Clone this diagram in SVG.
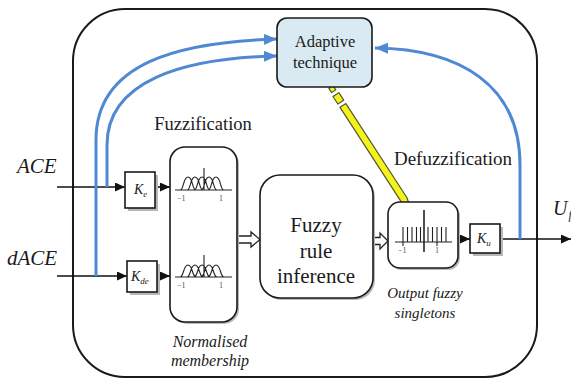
<svg xmlns="http://www.w3.org/2000/svg" width="571" height="383" viewBox="0 0 571 383">
  <style>
    .box { fill: #ffffff; stroke: #1a1a1a; stroke-width: 1.6; }
    .shadow { fill: #b8b8b8; }
    .wire { fill: none; stroke: #111; stroke-width: 1.6; }
    .blue { fill: none; stroke: #4f88d3; stroke-width: 3; }
    .mf { fill: none; stroke: #222; stroke-width: 1.1; }
    text { fill: #1a1a1a; }
    .ital { font-style: italic; }
    .tick { font-size: 8px; fill: #555; }
    .hollow { fill: #ffffff; stroke: #222; stroke-width: 1.3; }
  </style>
  <defs>
    <marker id="arr" viewBox="0 0 10 9" refX="10" refY="4.5" markerWidth="10" markerHeight="9" markerUnits="userSpaceOnUse" orient="auto">
      <path d="M0,0 L10,4.5 L0,9 z" fill="#111"/>
    </marker>
    <marker id="barr" viewBox="0 0 13 11" refX="13" refY="5.5" markerWidth="13" markerHeight="11" markerUnits="userSpaceOnUse" orient="auto">
      <path d="M0,0 L13,5.5 L0,11 z" fill="#4f88d3"/>
    </marker>
  </defs>

  <g font-family="Liberation Serif, Times New Roman, serif">
  <!-- controller enclosure -->
  <rect id="enclosure" x="73" y="9" width="464" height="368" rx="52" ry="52" fill="#ffffff" stroke="#1a1a1a" stroke-width="2"/>

  <!-- section captions -->
  <text x="203" y="130" font-size="18.5" text-anchor="middle">Fuzzification</text>
  <text x="453" y="165" font-size="19" text-anchor="middle">Defuzzification</text>
  <text class="ital" x="210" y="347" font-size="16" text-anchor="middle">Normalised</text>
  <text class="ital" x="210" y="366" font-size="16" text-anchor="middle">membership</text>
  <text class="ital" x="425" y="298" font-size="15" text-anchor="middle">Output fuzzy</text>
  <text class="ital" x="425" y="318" font-size="15" text-anchor="middle">singletons</text>

  <!-- signal labels -->
  <text class="ital" x="17" y="173" font-size="21">ACE</text>
  <text class="ital" x="7" y="265" font-size="21">dACE</text>
  <text class="ital" x="553" y="215" font-size="20">U<tspan font-size="12" dx="1" dy="4">f</tspan></text>

  <!-- connectors -->
  <g id="connectors">
    <path class="wire" d="M57,187 H125" marker-end="url(#arr)"/>
    <path class="wire" d="M57,276 H127" marker-end="url(#arr)"/>
    <path class="wire" d="M155,187 H170" marker-end="url(#arr)"/>
    <path class="wire" d="M157,276 H170" marker-end="url(#arr)"/>
    <path class="wire" d="M458,239 H470" marker-end="url(#arr)"/>
    <path class="wire" d="M500,239 H571" marker-end="url(#arr)"/>
    <!-- hollow transfer arrows -->
    <polygon class="hollow" points="237,236 251,236 251,232 260,239.5 251,247 251,243 237,243"/>
    <polygon class="hollow" points="373,237.5 380,237.5 380,233 388,241 380,249 380,244.5 373,244.5"/>
    <!-- adaptation feedback paths -->
    <path class="blue" d="M96,276 V140 C96,62 180,42 277,39" marker-end="url(#barr)"/>
    <path class="blue" d="M107,187 V145 C107,82 180,58 277,56" marker-end="url(#barr)"/>
    <path class="blue" d="M520,239 V165 C520,85 460,49 375,48" marker-end="url(#barr)"/>
    <!-- tuning output -->
    <g transform="translate(331,87) rotate(57.05)" fill="#f7f21c" stroke="#4d5a33" stroke-width="1.2" stroke-linejoin="round">
      <rect x="0" y="-2.5" width="5" height="5"/>
      <rect x="9" y="-3.5" width="9" height="7"/>
      <polygon points="22,-3.5 134,-3.5 149,0 134,3.5 22,3.5"/>
    </g>
  </g>

  <!-- adaptive block -->
  <g id="adaptive">
    <rect x="277" y="18" width="95" height="69" rx="10" fill="#d9eaf3" stroke="#1a1a1a" stroke-width="1.6"/>
    <text x="325" y="47" font-size="16.5" text-anchor="middle">Adaptive</text>
    <text x="325" y="68" font-size="16.5" text-anchor="middle">technique</text>
  </g>

  <!-- input gains -->
  <g id="gain-e">
    <rect class="shadow" x="128" y="175" width="30" height="36"/>
    <rect class="box" x="125" y="172" width="30" height="36"/>
    <text class="ital" x="134" y="194" font-size="14">K<tspan font-size="9" dy="3">e</tspan></text>
  </g>
  <g id="gain-de">
    <rect class="shadow" x="130" y="264" width="30" height="31"/>
    <rect class="box" x="127" y="261" width="30" height="31"/>
    <text class="ital" x="131" y="281" font-size="14">K<tspan font-size="9" dy="3">de</tspan></text>
  </g>

  <!-- fuzzification membership block -->
  <g id="membership">
    <rect class="shadow" x="172" y="149" width="67" height="175" rx="15"/>
    <rect class="box" x="170" y="147" width="67" height="175" rx="15"/>
    <!-- upper set -->
    <path class="mf" d="M175,190 H232 M204,168 V190
      M180,190 C184,190 183,177 188,177 C193,177 192,190 196,190
      M187,190 C191,190 190,177 195,177 C200,177 199,190 203,190
      M194,190 C198,190 197,177 202,177 C207,177 206,190 210,190
      M201,190 C205,190 204,177 209,177 C214,177 213,190 217,190
      M208,190 C212,190 211,177 216,177 C221,177 220,190 224,190"/>
    <text class="tick" x="177" y="201">−1</text>
    <text class="tick" x="219" y="201">1</text>
    <!-- lower set -->
    <path class="mf" d="M175,277 H232 M204,255 V277
      M180,277 C184,277 183,265 188,265 C193,265 192,277 196,277
      M187,277 C191,277 190,265 195,265 C200,265 199,277 203,277
      M194,277 C198,277 197,265 202,265 C207,265 206,277 210,277
      M201,277 C205,277 204,265 209,265 C214,265 213,277 217,277
      M208,277 C212,277 211,265 216,265 C221,265 220,277 224,277"/>
    <text class="tick" x="177" y="288">−1</text>
    <text class="tick" x="219" y="288">1</text>
  </g>

  <!-- rule base -->
  <g id="inference">
    <rect class="shadow" x="262" y="177" width="113" height="123" rx="20"/>
    <rect class="box" x="260" y="175" width="113" height="123" rx="20"/>
    <text x="316" y="232" font-size="21" text-anchor="middle">Fuzzy</text>
    <text x="316" y="258" font-size="21" text-anchor="middle">rule</text>
    <text x="316" y="283" font-size="21" text-anchor="middle">inference</text>
  </g>

  <!-- output singletons -->
  <g id="singletons">
    <rect class="shadow" x="390" y="204" width="70" height="66" rx="12"/>
    <rect class="box" x="388" y="202" width="70" height="66" rx="12"/>
    <path class="mf" d="M395,242 H452
      M403,227 V242 M407.5,227 V242 M412,227 V242 M416.5,227 V242 M420.5,227 V242
      M428,227 V242 M432.5,227 V242 M437,227 V242 M441.5,227 V242 M446,227 V242"/>
    <path d="M424,210 V252" stroke="#222" stroke-width="1.6"/>
    <path class="mf" d="M403,242 V246 M437,242 V246" stroke="#777"/>
    <text class="tick" x="398" y="253">−1</text>
    <text class="tick" x="435" y="253">1</text>
  </g>

  <!-- output gain -->
  <g id="gain-u">
    <rect class="shadow" x="473" y="227" width="30" height="29"/>
    <rect class="box" x="470" y="224" width="30" height="29"/>
    <text class="ital" x="477" y="243" font-size="14">K<tspan font-size="9" dy="3">u</tspan></text>
  </g>
  </g>
</svg>
